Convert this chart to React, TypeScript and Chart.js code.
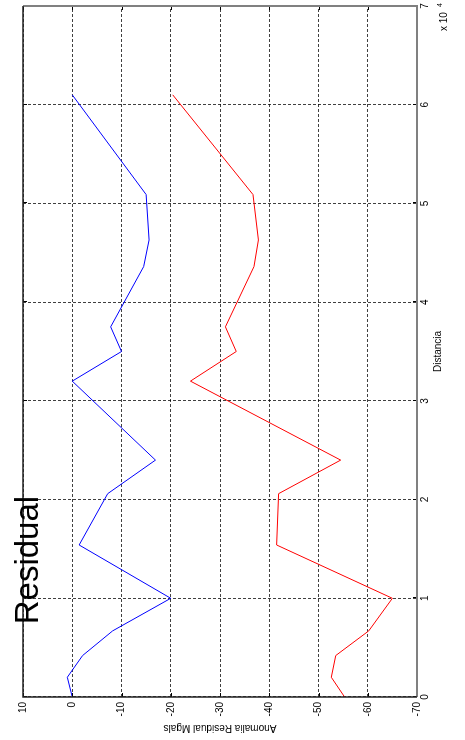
import React, { useEffect, useRef } from "react";
import { Chart, registerables } from "chart.js";

Chart.register(...registerables);

// Distancia (m)
const distancia = [0, 2000, 4200, 6700, 10000, 15400, 20600, 24000, 32000, 35000, 37500, 43600, 46300, 50900, 61000];
// Anomalia residual (mGal) – blue curve
const residualAzul = [0, 1, -2.1, -8.2, -20, -1.4, -7.2, -16.9, 0, -10, -7.8, -14.5, -15.6, -15, 0];
// Anomalia residual (mGal) – red curve
const residualRojo = [-55.3, -52.6, -53.5, -60.2, -65, -41.5, -41.9, -54.5, -24, -33.3, -31.1, -36.9, -37.8, -36.7, -20.4];

// Tick labels
const xTicks = [0, 1, 2, 3, 4, 5, 6, 7]; // x 10^4
const yTicks = [10, 0, -10, -20, -30, -40, -50, -60, -70];

const FONT = "'Liberation Sans', Arial, Helvetica, sans-serif";

export default function App() {
  const ref = useRef<HTMLCanvasElement>(null);

  useEffect(() => {
    const canvas = ref.current;
    if (!canvas) return;

    const matlabPlugin = {
      id: "matlabFrame",
      afterDraw(chart: any) {
        const { ctx, chartArea: a, scales } = chart;
        const xs = scales.x;
        const ys = scales.y;
        ctx.save();
        // inside tick marks on all four sides
        ctx.strokeStyle = "#000";
        ctx.lineWidth = 1;
        const tl = 4;
        ctx.beginPath();
        xTicks.forEach((t) => {
          const px = Math.round(xs.getPixelForValue(t * 10000)) + 0.5;
          ctx.moveTo(px, a.bottom);
          ctx.lineTo(px, a.bottom - tl);
          ctx.moveTo(px, a.top);
          ctx.lineTo(px, a.top + tl);
        });
        yTicks.forEach((t) => {
          const py = Math.round(ys.getPixelForValue(t)) + 0.5;
          ctx.moveTo(a.left, py);
          ctx.lineTo(a.left + tl, py);
          ctx.moveTo(a.right, py);
          ctx.lineTo(a.right - tl, py);
        });
        ctx.stroke();

        // frame
        ctx.lineWidth = 2;
        ctx.strokeStyle = "#808080";
        ctx.beginPath();
        ctx.moveTo(a.left, a.bottom);
        ctx.lineTo(a.right, a.bottom);
        ctx.lineTo(a.right, a.top);
        ctx.stroke();
        ctx.lineWidth = 1.5;
        ctx.strokeStyle = "#222";
        ctx.beginPath();
        ctx.moveTo(a.right, a.top);
        ctx.lineTo(a.left, a.top);
        ctx.lineTo(a.left, a.bottom);
        ctx.stroke();

        // big title text
        ctx.fillStyle = "#000";
        ctx.textBaseline = "alphabetic";
        ctx.textAlign = "left";
        ctx.font = `33px ${FONT}`;
        ctx.fillText("Residual", 115.7, 37.5);

        // exponent label
        ctx.font = `10px ${FONT}`;
        const base = "x 10";
        const bx = a.right - 25;
        ctx.fillText(base, bx, a.bottom + 29.5);
        const w = ctx.measureText(base).width;
        ctx.font = `7px ${FONT}`;
        ctx.fillText("4", bx + w + 5, a.bottom + 24.5);
        ctx.restore();
      },
    };

    const chart = new Chart(canvas, {
      type: "scatter",
      data: {
        datasets: [
          {
            data: distancia.map((d, i) => ({ x: d, y: residualAzul[i] })),
            showLine: true,
            borderColor: "#0000ff",
            borderWidth: 1,
            pointRadius: 0,
            fill: false,
          },
          {
            data: distancia.map((d, i) => ({ x: d, y: residualRojo[i] })),
            showLine: true,
            borderColor: "#ff0000",
            borderWidth: 1,
            pointRadius: 0,
            fill: false,
          },
        ],
      },
      options: {
        responsive: false,
        animation: false,
        devicePixelRatio: 1,
        layout: { padding: { left: 0, right: 6, top: 23, bottom: 0 } },
        plugins: { legend: { display: false }, tooltip: { enabled: false } },
        scales: {
          x: {
            type: "linear",
            position: "bottom",
            min: 0,
            max: 70000,
            afterBuildTicks: (s: any) => {
              s.ticks = xTicks.map((v) => ({ value: v * 10000 }));
            },
            afterFit: (s: any) => {
              s.height = 48;
            },
            ticks: {
              autoSkip: false,
              maxRotation: 0,
              padding: 2,
              color: "#000",
              font: { family: FONT, size: 10 },
              callback: (v: any) => String(Math.round(Number(v) / 10000)),
            },
            grid: { color: "rgba(0,0,0,0.75)", lineWidth: 1, drawTicks: false },
            border: { display: false, dash: [3, 2] },
            title: {
              display: true,
              text: "Distancia",
              color: "#000",
              font: { family: FONT, size: 10 },
              padding: { top: 0, bottom: 21 },
            },
          },
          y: {
            type: "linear",
            position: "left",
            min: -70,
            max: 10,
            afterBuildTicks: (s: any) => {
              s.ticks = yTicks.map((v) => ({ value: v }));
            },
            afterFit: (s: any) => {
              s.width = 43;
            },
            ticks: {
              autoSkip: false,
              padding: 5,
              color: "#000",
              font: { family: FONT, size: 10 },
            },
            grid: { color: "rgba(0,0,0,0.75)", lineWidth: 1, drawTicks: false },
            border: { display: false, dash: [3, 2] },
            title: {
              display: true,
              text: "Anomalia Residual Mgals",
              color: "#000",
              font: { family: FONT, size: 10 },
              padding: { top: 6.5, bottom: 0 },
            },
          },
        },
      },
      plugins: [matlabPlugin],
    });

    return () => chart.destroy();
  }, []);

  return (
    <div
      style={{
        position: "fixed",
        left: 0,
        top: 0,
        width: 740,
        height: 465,
        background: "#fff",
        transformOrigin: "0 0",
        transform: "translateY(740px) rotate(-90deg)",
      }}
    >
      <canvas ref={ref} width={740} height={465} style={{ width: 740, height: 465, display: "block" }} />
    </div>
  );
}
